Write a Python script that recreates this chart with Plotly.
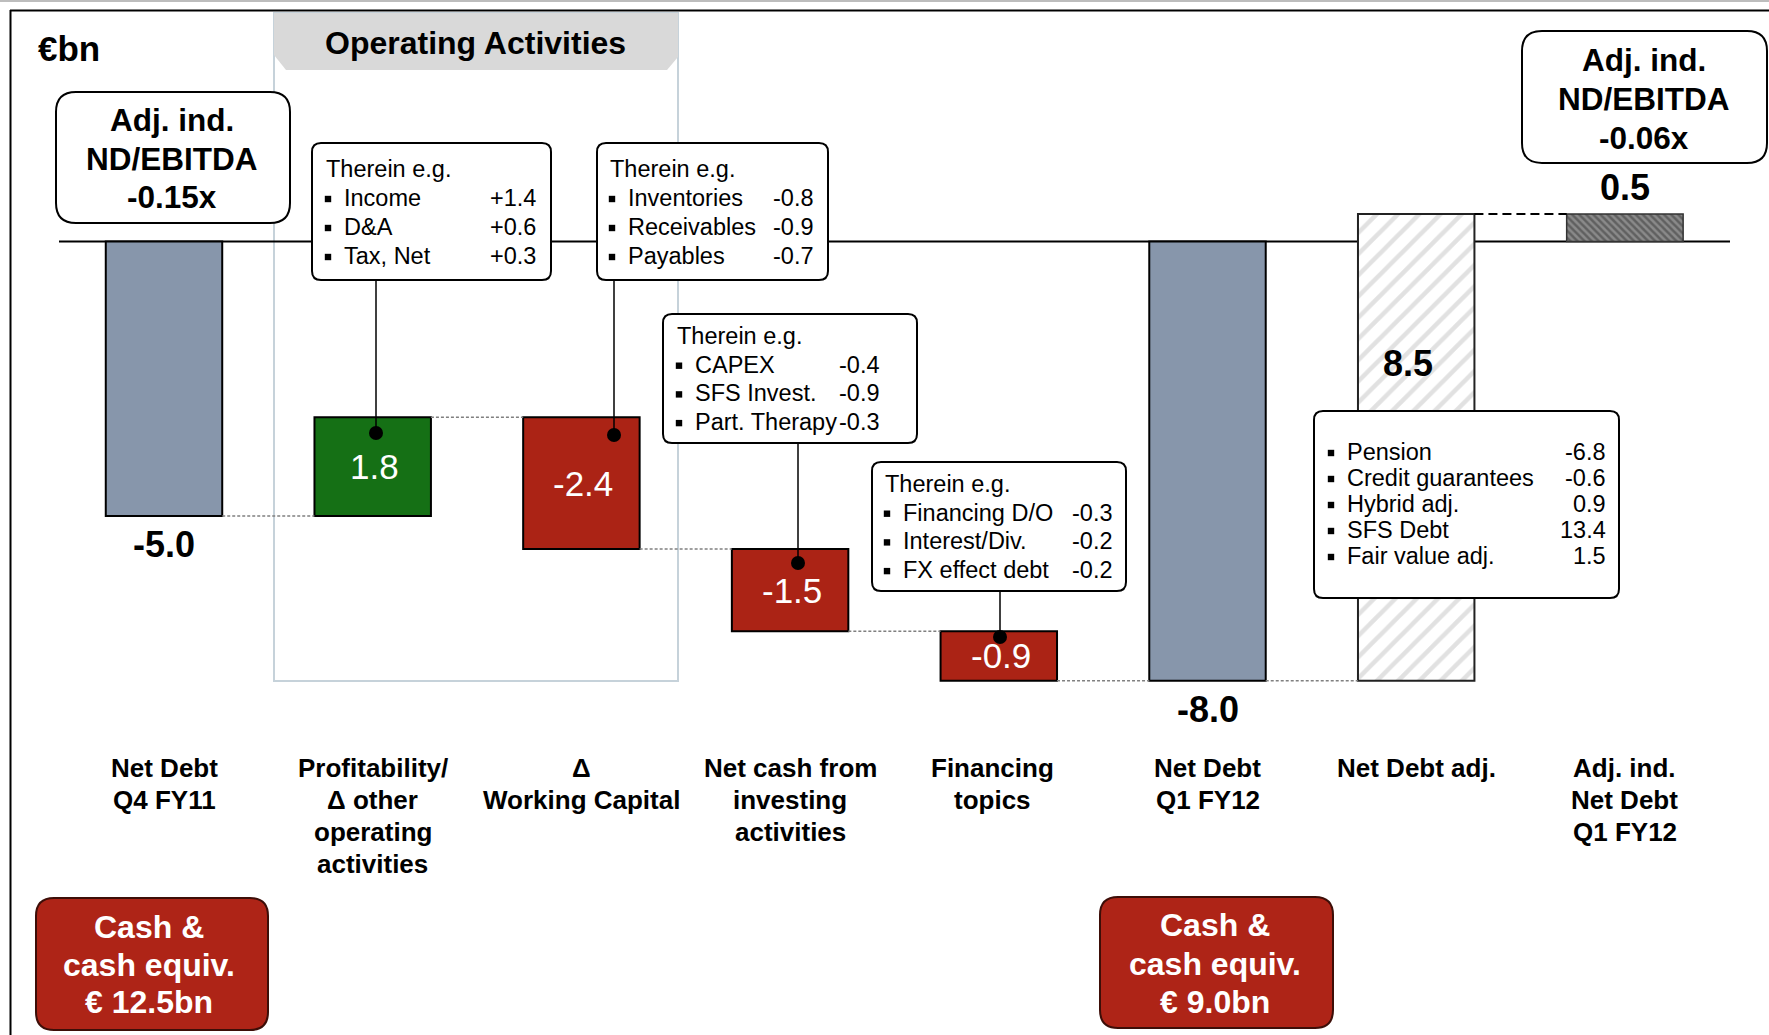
import plotly.graph_objects as go

W, H = 1769, 1035
FONT = "Liberation Sans, Arial, sans-serif"

# ---- data (EUR bn) ----
categories = [
    "Net Debt<br>Q4 FY11",
    "Profitability/<br>Δ other<br>operating<br>activities",
    "Δ<br>Working Capital",
    "Net cash from<br>investing<br>activities",
    "Financing<br>topics",
    "Net Debt<br>Q1 FY12",
    "Net Debt adj.",
    "Adj. ind.<br>Net Debt<br>Q1 FY12",
]
start_net_debt = -5.0
bridge_steps = [1.8, -2.4, -1.5, -0.9]
end_net_debt = -8.0
net_debt_adj = 8.5
adj_net_debt = 0.5

profit_items = ["Income", "D&A", "Tax, Net"]
profit_vals = ["+1.4", "+0.6", "+0.3"]
wc_items = ["Inventories", "Receivables", "Payables"]
wc_vals = ["-0.8", "-0.9", "-0.7"]
invest_items = ["CAPEX", "SFS Invest.", "Part. Therapy"]
invest_vals = ["-0.4", "-0.9", "-0.3"]
fin_items = ["Financing D/O", "Interest/Div.", "FX effect debt"]
fin_vals = ["-0.3", "-0.2", "-0.2"]
adj_items = ["Pension", "Credit guarantees", "Hybrid adj.", "SFS Debt", "Fair value adj."]
adj_vals = ["-6.8", "-0.6", "0.9", "13.4", "1.5"]

ratio_q4 = "-0.15x"
ratio_q1 = "-0.06x"
cash_q4 = "€ 12.5bn"
cash_q1 = "€ 9.0bn"

COLORS = {
    "slate": "#8796ab",
    "green": "#157015",
    "red": "#ab2315",
    "cash": "#ae2417",
    "header": "#d9d9d9",
    "frame": "#c6d2da",
}

# ---- geometry: pixel <-> data ----
SLOT, X_ORIGIN = 208.7, 164
UNIT, Y_ZERO = 54.9, 241.5
BAR_W = 0.558


def pxx(x):
    return x / W


def pxy(y):
    return 1 - y / H


# waterfall bases
bases = [0.0]
lengths = [start_net_debt]
level = start_net_debt
for s in bridge_steps:
    bases.append(level)
    lengths.append(s)
    level += s
bases += [0.0, end_net_debt, 0.0]
lengths += [end_net_debt, net_debt_adj, adj_net_debt]
xs = list(range(len(categories)))

fig = go.Figure()

bar_styles = [
    dict(color=COLORS["slate"], line=dict(color="black", width=2)),
    dict(color=COLORS["green"], line=dict(color="black", width=2)),
    dict(color=COLORS["red"], line=dict(color="black", width=2)),
    dict(color=COLORS["red"], line=dict(color="black", width=2)),
    dict(color=COLORS["red"], line=dict(color="black", width=2)),
    dict(color=COLORS["slate"], line=dict(color="black", width=2)),
    dict(color="white", line=dict(color="#222", width=2),
         pattern=dict(shape="/", fgcolor="#c4c4c4", bgcolor="white", size=15, solidity=0.3)),
    dict(color="#808080", line=dict(color="#333", width=1.5),
         pattern=dict(shape="\\", fgcolor="#353535", bgcolor="#8a8a8a", size=5, solidity=0.5)),
]
for i in xs:
    fig.add_trace(go.Bar(x=[i], y=[lengths[i]], base=[bases[i]], width=BAR_W,
                         marker=bar_styles[i], hoverinfo="skip", showlegend=False))

# connectors between bars
cx, cy = [], []
levels = [start_net_debt] + [bases[i] + lengths[i] for i in range(1, 5)] + [end_net_debt]
for i, lv in enumerate(levels):
    cx += [i + BAR_W / 2, i + 1 - BAR_W / 2, None]
    cy += [lv, lv, None]
fig.add_trace(go.Scatter(x=cx, y=cy, mode="lines", line=dict(color="#808080", width=1.5, dash="3px,2px"),
                         hoverinfo="skip", showlegend=False))
fig.add_trace(go.Scatter(x=[6 + BAR_W / 2, 7 - BAR_W / 2], y=[adj_net_debt, adj_net_debt], mode="lines",
                         line=dict(color="black", width=2, dash="9px,5px"),
                         hoverinfo="skip", showlegend=False))

shapes = []
annotations = []


def text(x, y, s, size, bold=False, color="black", anchor="center"):
    annotations.append(dict(x=pxx(x), y=pxy(y), xref="paper", yref="paper", text=s, showarrow=False,
                            xanchor=anchor, yanchor="middle",
                            font=dict(family=FONT, size=size, color=color,
                                      weight="bold" if bold else "normal")))


def rrect(x0, y0, x1, y1, r, fill="white", line="black", width=2):
    pts = (f"M{pxx(x0 + r)},{pxy(y0)} L{pxx(x1 - r)},{pxy(y0)} Q{pxx(x1)},{pxy(y0)} {pxx(x1)},{pxy(y0 + r)} "
           f"L{pxx(x1)},{pxy(y1 - r)} Q{pxx(x1)},{pxy(y1)} {pxx(x1 - r)},{pxy(y1)} "
           f"L{pxx(x0 + r)},{pxy(y1)} Q{pxx(x0)},{pxy(y1)} {pxx(x0)},{pxy(y1 - r)} "
           f"L{pxx(x0)},{pxy(y0 + r)} Q{pxx(x0)},{pxy(y0)} {pxx(x0 + r)},{pxy(y0)} Z")
    shapes.append(dict(type="path", path=pts, xref="paper", yref="paper", fillcolor=fill,
                       line=dict(color=line, width=width), layer="above"))


def vline(x, y0, y1, color="black", width=1.5, layer="above"):
    shapes.append(dict(type="line", xref="paper", yref="paper", x0=pxx(x), x1=pxx(x),
                       y0=pxy(y0), y1=pxy(y1), line=dict(color=color, width=width), layer=layer))


def square(x, y, r, color="black"):
    shapes.append(dict(type="rect", xref="paper", yref="paper", x0=pxx(x - r), x1=pxx(x + r),
                       y0=pxy(y - r), y1=pxy(y + r), fillcolor=color, line=dict(width=0), layer="above"))


def dot(x, y, r=7):
    shapes.append(dict(type="circle", xref="paper", yref="paper", x0=pxx(x - r), x1=pxx(x + r),
                       y0=pxy(y - r), y1=pxy(y + r), fillcolor="black", line=dict(width=0), layer="above"))


# outer frame
shapes.append(dict(type="line", xref="paper", yref="paper", x0=0, x1=1, y0=pxy(1), y1=pxy(1),
                   line=dict(color="#bdbdbd", width=2), layer="below"))
shapes.append(dict(type="line", xref="paper", yref="paper", x0=pxx(10), x1=1, y0=pxy(10.5), y1=pxy(10.5),
                   line=dict(color="black", width=2), layer="below"))
vline(10.5, 10, H, width=2, layer="below")

# operating activities frame + header
shapes.append(dict(type="rect", xref="paper", yref="paper", x0=pxx(274), x1=pxx(678), y0=pxy(13), y1=pxy(681),
                   line=dict(color=COLORS["frame"], width=2), layer="below"))
hdr = [(274, 13), (678, 13), (678, 57), (667, 70), (286, 70), (274, 55)]
shapes.append(dict(type="path", xref="paper", yref="paper",
                   path="M" + " L".join(f"{pxx(a)},{pxy(b)}" for a, b in hdr) + " Z",
                   fillcolor=COLORS["header"], line=dict(width=0), layer="below"))
text(475, 43, "Operating Activities", 32, bold=True)
text(36, 48, "€bn", 35, bold=True, anchor="left")

# zero line
shapes.append(dict(type="line", xref="paper", yref="y", x0=pxx(59), x1=pxx(1730), y0=0, y1=0,
                   line=dict(color="black", width=2), layer="below"))

# ND/EBITDA boxes
rrect(56, 92, 290, 223, 20)
for yy, s in zip([120, 159, 197.5], ["Adj. ind.", "ND/EBITDA", ratio_q4]):
    text(172, yy, s, 31.5, bold=True)
rrect(1522, 31, 1767, 163, 20)
for yy, s in zip([60, 99.5, 138], ["Adj. ind.", "ND/EBITDA", ratio_q1]):
    text(1644, yy, s, 31.5, bold=True)

# callout boxes (bullets drawn as small squares)
callouts = [
    ((312, 143, 551, 280), 324, 538, 169, 29, profit_items, profit_vals, True),
    ((597, 143, 828, 280), 608, 816, 169, 29, wc_items, wc_vals, True),
    ((663, 314, 917, 443), 675, 882, 336, 28.7, invest_items, invest_vals, True),
    ((872, 462, 1126, 591), 883, 1115, 484, 28.7, fin_items, fin_vals, True),
    ((1314, 411, 1619, 598), 1327, 1608, 452, 26, adj_items, adj_vals, False),
]
for rect, left, right, y0, step, items, vals, header in callouts:
    rrect(*rect, 9)
    k0 = 0
    if header:
        text(left, y0, "Therein e.g.", 23.5, anchor="left")
        k0 = 1
    for k, (lab, val) in enumerate(zip(items, vals), start=k0):
        yy = y0 + k * step
        square(left + 4, yy + 1, 3.2)
        text(left + 18, yy, lab, 23.5, anchor="left")
        text(right, yy, val, 23.5, anchor="right")

# leader lines to bars
for x, y0, y1 in [(376, 280, 433), (614, 280, 435), (798, 443, 563), (1000, 591, 637)]:
    vline(x, y0, y1)
    dot(x, y1)


# value labels
def xpix(i):
    return X_ORIGIN + i * SLOT


def ypix(v):
    return Y_ZERO - v * UNIT


text(xpix(0), ypix(start_net_debt) + 28, f"{start_net_debt:.1f}", 36, bold=True)
text(xpix(5), ypix(end_net_debt) + 29, f"{end_net_debt:.1f}", 36, bold=True)
text(xpix(7), ypix(adj_net_debt) - 27, f"{adj_net_debt:.1f}", 36, bold=True)
text(xpix(6) - 8, 363, f"{net_debt_adj:.1f}", 36, bold=True)
for i in range(1, 5):
    mid = bases[i] + lengths[i] / 2
    text(xpix(i) + 2, ypix(mid), f"{lengths[i]:.1f}", 35, color="white")

# category labels
label_shift = [0, 0, 0, 0, -6, 0, 0, 0]
for i, cat in enumerate(categories):
    for k, line in enumerate(cat.split("<br>")):
        text(xpix(i) + label_shift[i], 768 + k * 32, line, 26, bold=True)

# cash boxes
rrect(36, 898, 268, 1030, 18, fill=COLORS["cash"], line="#3d0e08", width=2)
for yy, s in zip([927, 965, 1002], ["Cash &", "cash equiv.", cash_q4]):
    text(149, yy, s, 32, bold=True, color="white")
rrect(1100, 897, 1333, 1028, 18, fill=COLORS["cash"], line="#3d0e08", width=2)
for yy, s in zip([925, 963.5, 1002], ["Cash &", "cash equiv.", cash_q1]):
    text(1215, yy, s, 32, bold=True, color="white")

fig.update_layout(
    width=W, height=H, autosize=False,
    margin=dict(l=0, r=0, t=0, b=0),
    paper_bgcolor="white", plot_bgcolor="white",
    barmode="overlay", showlegend=False,
    xaxis=dict(range=[-X_ORIGIN / SLOT, (W - X_ORIGIN) / SLOT], visible=False, fixedrange=True),
    yaxis=dict(range=[(Y_ZERO - H) / UNIT, Y_ZERO / UNIT], visible=False, fixedrange=True),
    shapes=shapes, annotations=annotations,
    font=dict(family=FONT),
)
# page body has a default 8px margin; drop it so the figure fills the window exactly
fig.write_html("out.html", config={"displayModeBar": False},
               post_script="document.body.style.margin='0';document.body.style.overflow='hidden';")
